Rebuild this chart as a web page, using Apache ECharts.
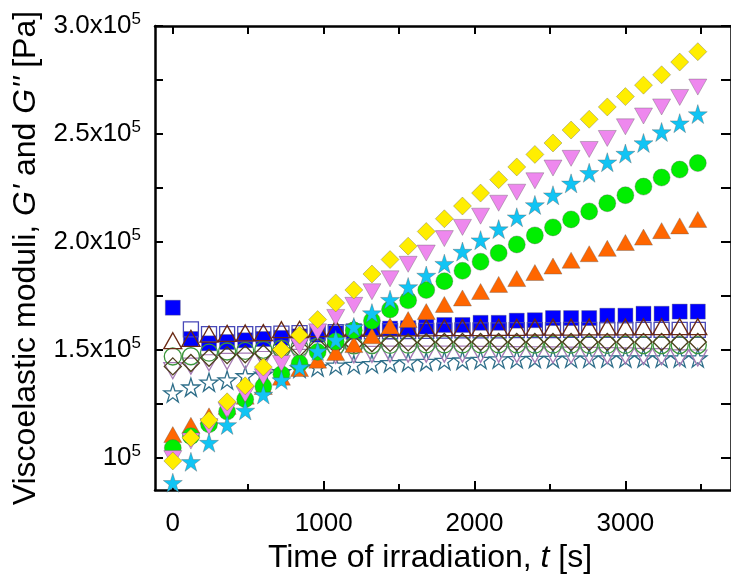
<!DOCTYPE html>
<html>
<head>
<meta charset="utf-8">
<script src="https://cdn.jsdelivr.net/npm/echarts@6/dist/echarts.min.js"></script>
<style>
  html, body { margin: 0; padding: 0; background: #fff; }
  #chart { width: 731px; height: 579px; }
</style>
</head>
<body>
<div id="chart"></div>
<script>
// irradiation time [s]
var times = [0, 120, 240, 360, 480, 600, 720, 840, 960, 1080, 1200, 1320, 1440, 1560, 1680,
  1800, 1920, 2040, 2160, 2280, 2400, 2520, 2640, 2760, 2880, 3000, 3120, 3240, 3360, 3480];

// filled markers
var blueSquare = [169500, 155000, 153000, 153600, 154400, 155000, 155500, 156200, 157000, 157700,
  158500, 160000, 159800, 160000, 160700, 161500, 161500, 162500, 162500, 163500,
  163700, 164700, 164700, 164700, 165800, 165800, 166700, 166700, 167700, 167700];
var orangeTri = [110700, 115000, 119400, 123800, 128500, 133000, 137300, 141300, 145200, 148700,
  152400, 156500, 161000, 164000, 167700, 171000, 174000, 177000, 180300, 183000,
  185800, 188800, 191500, 194500, 197000, 199700, 202200, 205200, 207400, 210400];
var greenCircle = [104500, 110000, 115500, 121400, 127100, 133000, 138700, 143700, 149000, 153800,
  159000, 163500, 168700, 172900, 177700, 181800, 186600, 190800, 194800, 198800,
  203000, 206700, 210400, 214100, 217900, 221600, 225600, 229800, 233500, 236500];
var pinkTri = [99600, 107700, 114400, 121900, 129300, 137500, 143700, 151600, 158300, 165000,
  170600, 176900, 182900, 189600, 194800, 201500, 206700, 211900, 217900, 223000,
  228300, 234200, 238700, 242800, 247900, 253300, 258300, 262500, 266900, 271700];
var yellowDiamond = [98500, 109200, 117400, 125900, 133300, 142000, 150100, 156800, 164000, 171700,
  177700, 185100, 191800, 198000, 204800, 210700, 216600, 222600, 228800, 234700,
  240500, 245800, 251800, 256800, 262500, 267300, 272600, 277400, 283300, 288100];
var cyanStar = [88400, 98100, 107000, 115200, 121900, 129300, 136000, 142000, 149400, 154600,
  160600, 167000, 173200, 179100, 184400, 189900, 195500, 200800, 205900, 211400,
  217100, 221600, 227100, 232000, 236900, 240900, 245800, 250900, 255000, 259200];

// open markers
var openSquare = [null, 159500, 157300, 157300, 157300, 157300, 157500, 157700, 158000, 158200,
  158400, 158500, 158600, 158700, 158800, 158900, 159000, 159000, 159000, 159100,
  159100, 159100, 159200, 159200, 159200, 159200, 159200, 159200, 159200, 159200];
var openTri = [154200, 155300, 157300, 157600, 157800, 158000, 159300, 159500, 159800, 160000,
  160000, 160000, 160100, 160200, 160200, 160300, 160300, 160300, 160400, 160400,
  160500, 160500, 160500, 160600, 160600, 160600, 160700, 160700, 160700, 160700];
var openCircle = [146900, 147000, 148700, 149200, 149500, 150000, 150500, 151000, 151400, 151700,
  152000, 152200, 152300, 152400, 152500, 152500, 152500, 152500, 152500, 152500,
  152400, 152400, 152400, 152300, 152300, 152300, 152200, 152200, 152200, 152200];
var openDiamond = [142300, 143900, 146300, 147500, 147900, 148300, 150000, 150800, 151500, 152200,
  152700, 153000, 153200, 153400, 153500, 153600, 153600, 153600, 153600, 153600,
  153600, 153600, 153600, 153600, 153600, 153600, 153600, 153600, 153600, 153600];
var openDownTri = [140300, 142400, 144000, 144600, 144800, 145500, 146000, 146500, 147000, 147400,
  147700, 147900, 148000, 148000, 148000, 148000, 148000, 147900, 147900, 147800,
  147700, 147600, 147500, 147400, 147300, 147200, 147000, 146800, 146300, 146200];
var openStar = [130000, 132700, 135000, 136000, 137900, 138700, 139800, 141500, 142000, 142800,
  143200, 143500, 144000, 144300, 144600, 145000, 145200, 145500, 145700, 145800,
  146000, 146000, 146100, 146100, 146200, 146200, 146200, 146200, 146200, 146200];

// ticks
var xMajor = [0, 1000, 2000, 3000];
var xMinor = [500, 1500, 2500, 3500];
var yMajor = [100000, 150000, 200000, 250000, 300000];
var yAllTicks = [100000, 125000, 150000, 175000, 200000, 225000, 250000, 275000, 300000];

var FONT = 'Liberation Sans';
var STAR = 'path://M0,-50 L11.2,-15.5 L47.6,-15.5 L18.2,5.9 L29.4,40.5 L0,19.1 L-29.4,40.5 L-18.2,5.9 L-47.6,-15.5 L-11.2,-15.5 Z';

function pairs(vals) {
  var out = [];
  for (var i = 0; i < times.length; i++) {
    if (vals[i] != null) out.push([times[i], vals[i]]);
  }
  return out;
}

function filled(vals, symbol, size, color, rotate) {
  return {
    type: 'scatter', data: pairs(vals), symbol: symbol, symbolSize: size,
    symbolRotate: rotate || 0, silent: true,
    itemStyle: { color: color, borderColor: 'rgba(90,90,90,0.45)', borderWidth: 0.8, opacity: 1 }
  };
}
function open(vals, symbol, size, color, rotate) {
  return {
    type: 'scatter', data: pairs(vals), symbol: symbol, symbolSize: size,
    symbolRotate: rotate || 0, silent: true,
    itemStyle: { color: 'rgba(255,255,255,0)', borderColor: color, borderWidth: 1.3, opacity: 1 }
  };
}

var axisLine = { show: true, onZero: false, lineStyle: { color: '#000', width: 2.5 } };
var xMin = -118, xMax = 3700, yMin = 85000, yMax = 300000;

var chart = echarts.init(document.getElementById('chart'), null, { renderer: 'canvas' });
var option = {
  animation: false,
  backgroundColor: '#fff',
  grid: { left: 155, right: -7, top: 26, bottom: 72, containLabel: false },
  xAxis: [
    {
      type: 'value', position: 'bottom', min: xMin, max: xMax,
      axisLine: axisLine,
      axisTick: { show: true, inside: true, length: 9, customValues: xMajor, lineStyle: { color: '#000', width: 2 } },
      axisLabel: {
        show: true, customValues: xMajor, margin: 21, color: '#000', fontFamily: FONT, fontSize: 26,
        formatter: function (v) { return String(v); }
      },
      splitLine: { show: false },
      name: '{n|Time of irradiation, }{i|t}{n| [s]}',
      nameLocation: 'middle', nameGap: 42,
      nameTextStyle: {
        padding: [0, 26, 0, 0],
        rich: {
          n: { fontFamily: FONT, fontSize: 32, color: '#000' },
          i: { fontFamily: FONT, fontSize: 32, color: '#000', fontStyle: 'italic' }
        }
      }
    },
    {
      type: 'value', position: 'bottom', min: xMin, max: xMax,
      axisLine: { show: false, onZero: false },
      axisTick: { show: true, inside: true, length: 6, customValues: xMinor, lineStyle: { color: '#000', width: 2 } },
      axisLabel: { show: false }, splitLine: { show: false }
    },
    {
      type: 'value', position: 'top', min: xMin, max: xMax,
      axisLine: axisLine,
      axisTick: { show: true, inside: true, length: 8, customValues: xMajor.concat(xMinor), lineStyle: { color: '#000', width: 2 } },
      axisLabel: { show: false }, splitLine: { show: false }
    }
  ],
  yAxis: [
    {
      type: 'value', position: 'left', min: yMin, max: yMax,
      axisLine: axisLine,
      axisTick: { show: true, inside: true, length: 8, customValues: yAllTicks, lineStyle: { color: '#000', width: 2 } },
      axisLabel: {
        show: true, customValues: yMajor, margin: 14,
        formatter: function (v) {
          if (v === 100000) return '{m|10}{s|5}';
          return '{m|' + (v / 100000).toFixed(1) + 'x10}{s|5}';
        },
        rich: {
          m: { fontFamily: FONT, fontSize: 26, color: '#000', lineHeight: 30 },
          s: { fontFamily: FONT, fontSize: 17, color: '#000', lineHeight: 16, verticalAlign: 'top' }
        }
      },
      splitLine: { show: false },
      name: '{n|Viscoelastic moduli, }{i|G\'}{n| and }{i|G\'\'}{n| [Pa]}',
      nameLocation: 'middle', nameGap: 110, nameRotate: 90,
      nameTextStyle: {
        rich: {
          n: { fontFamily: FONT, fontSize: 32, color: '#000' },
          i: { fontFamily: FONT, fontSize: 32, color: '#000', fontStyle: 'italic' }
        }
      }
    },
    {
      type: 'value', position: 'right', min: yMin, max: yMax,
      axisLine: axisLine,
      axisTick: { show: true, inside: true, length: 10, customValues: yAllTicks, lineStyle: { color: '#000', width: 2 } },
      axisLabel: { show: false }, splitLine: { show: false }
    }
  ],
  series: [
    filled(blueSquare, 'rect', 15, '#0000ff'),
    open(openSquare, 'rect', 15, '#4848b8'),
    open(openStar, STAR, 18, '#2f6f8a'),
    open(openDownTri, 'triangle', [18, 16], '#a57ab5', 180),
    open(openCircle, 'circle', 17, '#3c963c'),
    open(openDiamond, 'diamond', [17, 17], '#4e3f1c'),
    open(openTri, 'triangle', [18, 16], '#6b2a14'),
    filled(orangeTri, 'triangle', [18, 16], '#ff6600'),
    filled(greenCircle, 'circle', 17, '#00ee00'),
    filled(pinkTri, 'triangle', [18, 16], '#ee88ee', 180),
    filled(yellowDiamond, 'diamond', [18, 18], '#ffee00'),
    filled(cyanStar, STAR, 19, '#11c4f4')
  ]
};
chart.setOption(option);
window.onresize = function () { chart.resize(); };
</script>
</body>
</html>
